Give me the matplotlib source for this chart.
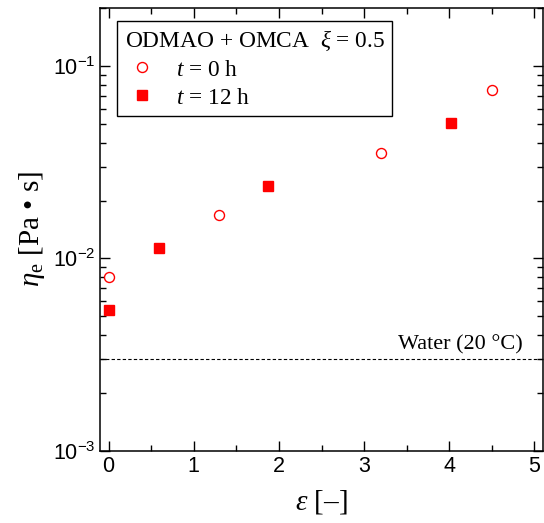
import math
import matplotlib
matplotlib.use("Agg")
import matplotlib.pyplot as plt
from matplotlib.ticker import FixedLocator, LogLocator, FuncFormatter, NullFormatter, MultipleLocator

plt.rcParams["font.family"] = ["Liberation Serif", "DejaVu Serif"]
plt.rcParams["mathtext.fontset"] = "custom"
plt.rcParams["mathtext.rm"] = "Liberation Serif"
plt.rcParams["mathtext.it"] = "Liberation Serif:italic"
plt.rcParams["mathtext.sf"] = "Liberation Sans"

# --- dados ---
eps_0h = [0.0, 1.3, 3.2, 4.5]
eta_0h = [0.0080, 0.0169, 0.0354, 0.0752]

eps_12h = [0.0, 0.59, 1.87, 4.02]
eta_12h = [0.0054, 0.0114, 0.0239, 0.0507]

eta_water = 0.003
x_ticks = [0, 1, 2, 3, 4, 5]
y_ticks = [1e-3, 1e-2, 1e-1]

# --- figura ---
fig = plt.figure(figsize=(5.44, 5.23), dpi=100)
ax = fig.add_axes([0.184, 0.1377, 0.814, 0.847])

ax.plot(eps_0h, eta_0h, "o", ms=7.2, mfc="white", mec="red", mew=1.0,
        linestyle="none", label=r"$t$ = 0 h")
ax.plot(eps_12h, eta_12h, "s", ms=7.5, mfc="red", mec="red",
        linestyle="none", label=r"$t$ = 12 h")

ax.axhline(eta_water, color="black", lw=0.8, dashes=(3, 2))
ax.text(4.86, 0.00338, "Water (20 °C)", ha="right", va="baseline", fontsize=16)

ax.set_yscale("log")
ax.set_xlim(-0.1, 5.1)
ax.set_ylim(1e-3, 0.2)

ax.xaxis.set_major_locator(FixedLocator(x_ticks))
ax.xaxis.set_minor_locator(MultipleLocator(0.5))
ax.yaxis.set_major_locator(FixedLocator(y_ticks))
ax.yaxis.set_minor_locator(LogLocator(base=10, subs=range(2, 10)))
ax.yaxis.set_minor_formatter(NullFormatter())
ax.yaxis.set_major_formatter(FuncFormatter(
    lambda v, p: r"$\mathregular{10^{%d}}$" % round(math.log10(v))))
ax.xaxis.set_major_formatter(FuncFormatter(lambda v, p: "%d" % v))

ax.tick_params(which="both", direction="in", top=True, right=True, width=1.0)
ax.tick_params(which="major", length=7, labelsize=15.5,
               labelfontfamily="Liberation Sans")
ax.tick_params(which="minor", length=4)
for s in ax.spines.values():
    s.set_linewidth(1.1)

ax.set_xlabel(r"$\varepsilon$ [–]", fontsize=21, labelpad=8)
ax.set_ylabel(r"$\eta_\mathrm{e}$ [Pa • s]", fontsize=21, labelpad=4)

# legenda com título
leg = ax.legend(title=r"ODMAO + OMCA  $\xi$ = 0.5", loc="upper left",
                bbox_to_anchor=(0.038, 0.971), borderaxespad=0,
                fontsize=16.8, title_fontsize=16.8, frameon=True, fancybox=False,
                edgecolor="black", framealpha=1, handletextpad=0.7,
                labelspacing=0.28, borderpad=0.33, alignment="left",
                handlelength=1.5)
leg.get_frame().set_linewidth(1.0)

fig.savefig("out.png", dpi=100)
